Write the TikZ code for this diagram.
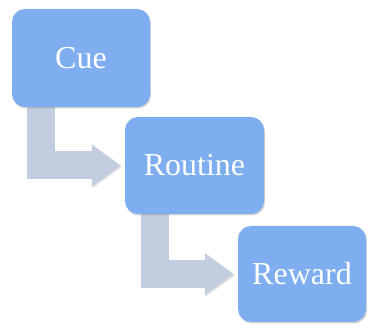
\documentclass[tikz,border=0pt]{standalone}
\usepackage{fontspec}
\setmainfont{Liberation Serif}
\usetikzlibrary{arrows.meta,shadows}
\definecolor{boxblue}{RGB}{126,174,240}
\definecolor{arrowgray}{RGB}{194,205,224}
\pgfdeclarelayer{background}
\pgfsetlayers{background,main}
\begin{document}
\begin{tikzpicture}[x=1pt,y=1pt,
    habitbox/.style={fill=boxblue, rounded corners=13pt, inner sep=0pt, text=white,
        font=\fontsize{32}{36}\selectfont,
        drop shadow={shadow xshift=1pt, shadow yshift=-1.5pt, opacity=0.35}},
    habitarrow/.style={draw=arrowgray, line width=28pt, shorten >=4pt,
        -{Triangle[length=29pt,width=40pt]},
        preaction={draw=black, opacity=0.12, transform canvas={xshift=1pt,yshift=-1.5pt}}}]
    \useasboundingbox (0,0) rectangle (369,326);
    \node[habitbox, minimum width=138pt, minimum height=98pt] (cue) at (81,268) {Cue};
    \node[habitbox, minimum width=139pt, minimum height=97pt] (routine) at (194.5,160.5) {Routine};
    \node[habitbox, minimum width=128pt, minimum height=96pt] (reward) at (302,52) {Reward};
    \begin{pgfonlayer}{background}
    \draw[habitarrow] ([xshift=29pt]cue.south west) |- (routine.west);
    \draw[habitarrow] ([xshift=30pt]routine.south west) |- (reward.west);
    \end{pgfonlayer}
\end{tikzpicture}
\end{document}
